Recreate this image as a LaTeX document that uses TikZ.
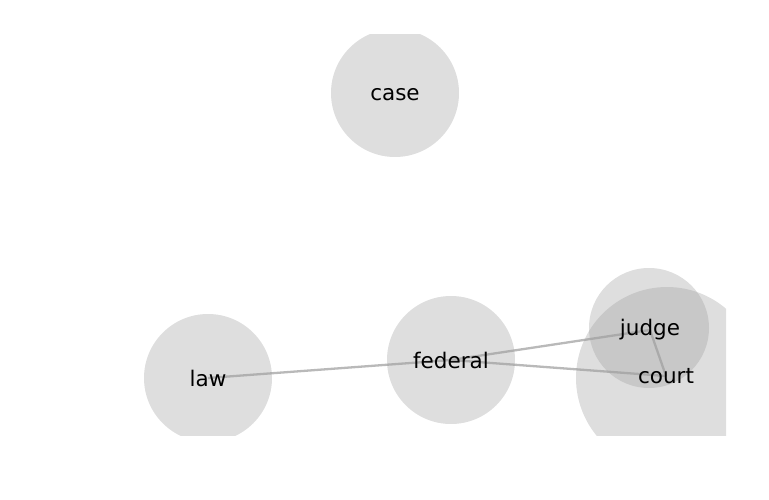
\documentclass[tikz,border=0pt]{standalone}
\usepackage{fontspec}
\setmainfont{DejaVu Sans}
\usetikzlibrary{backgrounds}
\definecolor{bubblegray}{RGB}{160,160,160}
\definecolor{linkgray}{RGB}{185,185,185}
\tikzset{
    word/.style={font=\fontsize{21.5}{24}\selectfont, text=black, inner sep=0pt},
    bubble/.style={fill=bubblegray, fill opacity=0.35},
    link/.style={draw=linkgray, line width=2.3pt}
}

\begin{document}
\begin{tikzpicture}[x=1pt, y=-1pt]
\useasboundingbox (0,0) rectangle (769,500);

\node[word] (case) at (395,95) {case};
\node[word] (law) at (208,378) {law};
\node[word] (federal) at (451,360) {federal};
\node[word] (judge) at (650,330) {judge};
\node[word] (court) at (666,376) {court};

\begin{scope}[on background layer]
\clip (0,35) rectangle (726,435);
% links first, bubbles over them
\draw[link] (law.center) -- (federal.center);
\draw[link] (federal.center) -- (judge.center);
\draw[link] (federal.center) -- (court.center);
\draw[link] (judge.center) -- (court.center);
\fill[bubble] (395,93) circle (64);
\fill[bubble] (law.center) circle (64);
\fill[bubble] (federal.center) circle (64);
\fill[bubble] (649,328) circle (60);
\fill[bubble] (667,378) circle (91);
\end{scope}

\end{tikzpicture}
\end{document}
